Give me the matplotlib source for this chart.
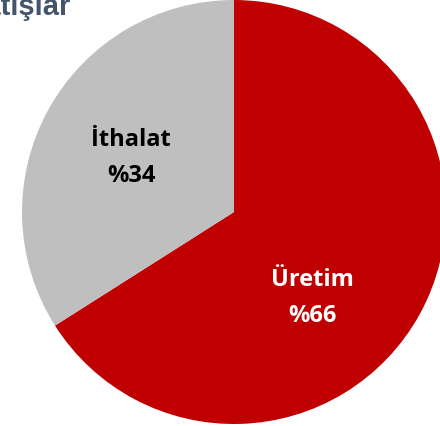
import matplotlib
matplotlib.use("Agg")
import matplotlib.pyplot as plt

# share of supply
labels = ["Üretim", "İthalat"]
shares = [66, 34]
colors = ["#C00000", "#BFBFBF"]
text_colors = ["white", "black"]
title = "Satışlar"

W, H = 440, 427
fig = plt.figure(figsize=(W / 100, H / 100), dpi=100)
ax = fig.add_axes([0, 0, 1, 1])

cx, cy, r = 234, H - 213, 212
ax.pie(shares, colors=colors, startangle=90, counterclock=False,
       center=(cx, cy), radius=r, wedgeprops=dict(linewidth=0),
       frame=True)
ax.set_xlim(0, W)
ax.set_ylim(0, H)
ax.set_aspect("equal")
ax.axis("off")

# label anchor: x centre, baseline of first line
label_pos = [(312, H - 286), (131, H - 146)]
for lab, val, (x, y), tc in zip(labels, shares, label_pos, text_colors):
    ax.text(x, y, lab, ha="center", va="baseline", fontsize=17,
            fontweight="bold", color=tc, family="Open Sans")
    ax.text(x, y - 36, f"%{val}", ha="center", va="baseline", fontsize=17,
            fontweight="bold", color=tc, family="Open Sans")

ax.text(71, H - 15, title, ha="right", va="baseline", fontsize=21,
        fontweight="bold", color="#44546A", family="Liberation Sans")

fig.savefig("out.png", dpi=100)
